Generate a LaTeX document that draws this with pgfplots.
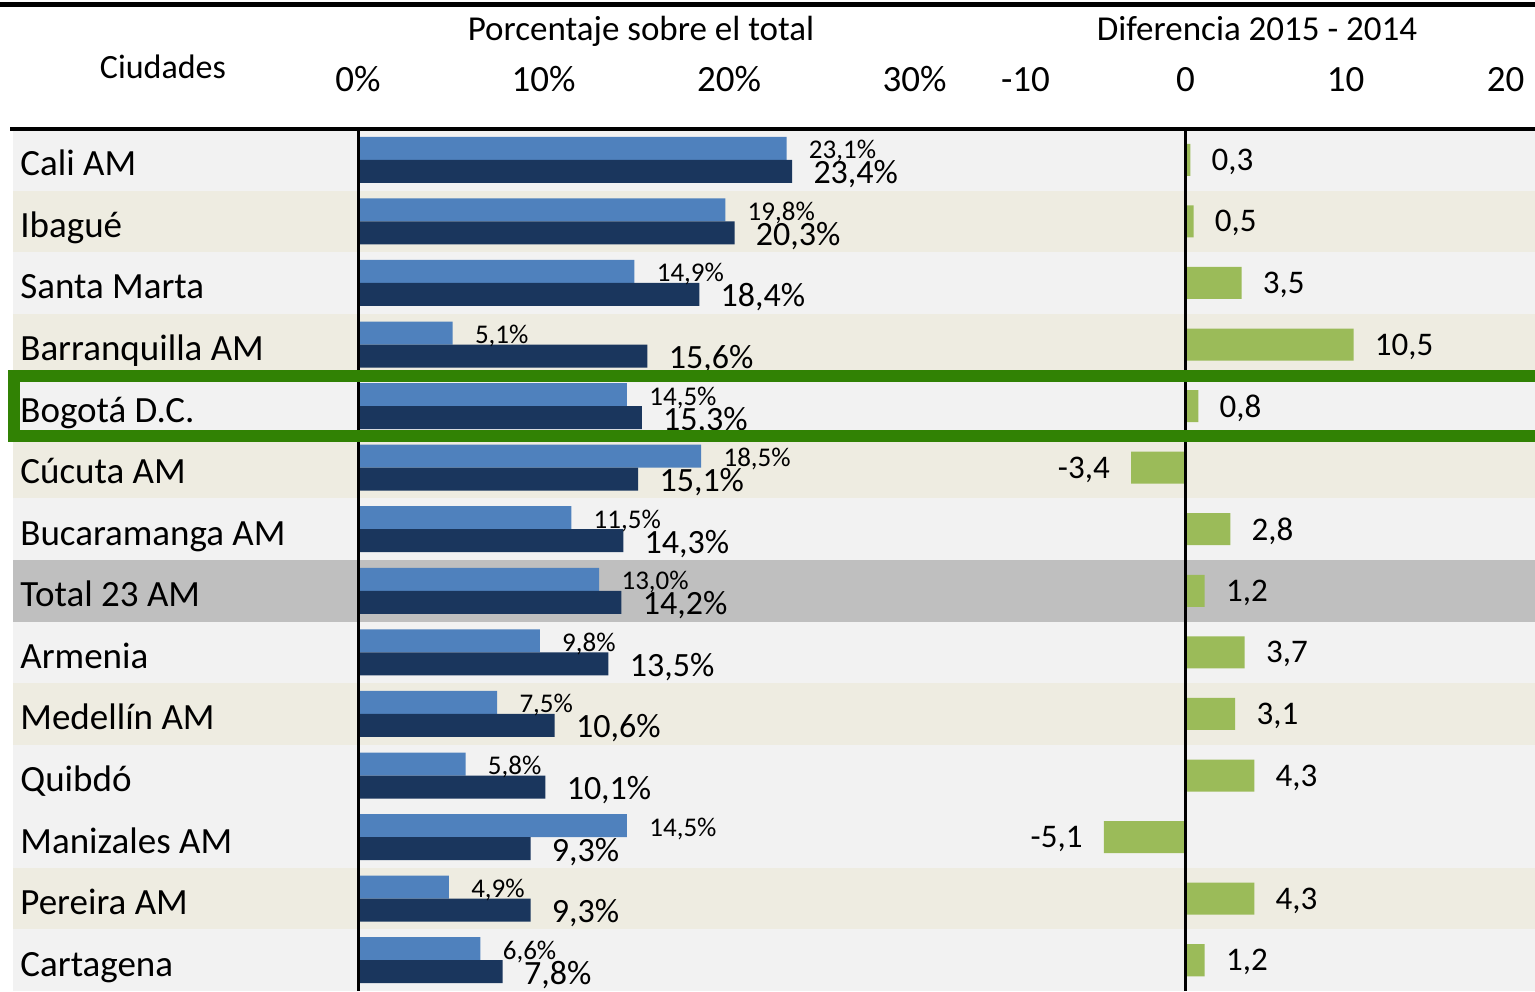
\documentclass[border=0pt]{standalone}
\usepackage{fontspec}
\setmainfont{Carlito}
\usepackage{pgfplots}
\usepackage{pgfplotstable}
\pgfplotsset{compat=1.18}
\pgfkeys{/pgf/number format/assume math mode=true}

\definecolor{azul14}{HTML}{4F81BD}
\definecolor{azul15}{HTML}{1A365D}
\definecolor{verde}{HTML}{9BBB59}
\definecolor{marco}{HTML}{318204}
\definecolor{filaA}{HTML}{F2F2F2}
\definecolor{filaB}{HTML}{EEECE1}
\definecolor{filaT}{HTML}{BFBFBF}

% fila: 0 = Cali AM ... 13 = Cartagena
\pgfplotstableread{
fila v14  v15  dif
0    23.1 23.4  0.3
1    19.8 20.3  0.5
2    14.9 18.4  3.5
3    5.1  15.6 10.5
4    14.5 15.3  0.8
5    18.5 15.1 -3.4
6    11.5 14.3  2.8
7    13.0 14.2  1.2
8    9.8  13.5  3.7
9    7.5  10.6  3.1
10   5.8  10.1  4.3
11   14.5 9.3  -5.1
12   4.9  9.3   4.3
13   6.6  7.8   1.2
}\datos

\newcommand{\pct}{\pgfmathprintnumber[fixed,fixed zerofill,precision=1,use comma]{\pgfplotspointmeta}\%}
\newcommand{\dec}{\pgfmathprintnumber[fixed,fixed zerofill,precision=1,use comma]{\pgfplotspointmeta}}

\begin{document}
\begin{tikzpicture}[x=0.5pt,y=-0.5pt]
\useasboundingbox (0,0) rectangle (1535,991);
% fondos de fila
\foreach \i/\c in {0/filaA,1/filaB,2/filaA,3/filaB,4/filaA,5/filaB,6/filaA,7/filaT,8/filaA,9/filaB,10/filaA,11/filaA,12/filaB,13/filaA}
  \fill[\c] (13,{129+\i*61.5714}) rectangle (1535,{129+(\i+1)*61.5714});
\coordinate (LA) at (358,991);
\coordinate (RA) at (1000,991);

% porcentaje sobre el total
\begin{axis}[
  at={(LA)}, anchor=south west, scale only axis,
  width=413.5pt, height=431pt,
  xmin=0, xmax=44.58, ymin=-0.5, ymax=13.5, y dir=reverse,
  axis line style={draw=none}, major tick length=0pt,
  xtick={0,10,20,30}, xticklabel pos=upper,
  xticklabel={\pgfmathprintnumber{\tick}\%},
  xticklabel style={anchor=base, yshift=19pt, inner sep=0pt, font=\fontsize{18.5}{22}\selectfont},
  ytick={0,...,13},
  yticklabels={Cali AM, Ibagué, Santa Marta, Barranquilla AM, Bogotá D.C., Cúcuta AM, Bucaramanga AM, Total 23 AM, Armenia, Medellín AM, Quibdó, Manizales AM, Pereira AM, Cartagena},
  yticklabel style={anchor=base west, xshift=-169pt, yshift=-8pt, inner sep=0pt, font=\fontsize{18.5}{22}\selectfont},
  point meta=x, nodes near coords={\pct},
]
\addplot[xbar, bar width=0.3736, bar shift=0, fill=azul14, draw=none,
  every node near coord/.append style={font=\fontsize{13.5}{16}\selectfont, inner xsep=11pt, yshift=-1.5pt}]
  table[x=v14, y expr=\thisrow{fila}-0.1868] {\datos};
\addplot[xbar, bar width=0.3736, bar shift=0, fill=azul15, draw=none,
  every node near coord/.append style={font=\fontsize{17}{20}\selectfont, inner xsep=10.5pt, yshift=-1.5pt}]
  table[x=v15, y expr=\thisrow{fila}+0.1868] {\datos};
\end{axis}

% diferencia 2015 - 2014
\begin{axis}[
  at={(RA)}, anchor=south west, scale only axis,
  width=267.5pt, height=431pt,
  xmin=-11.594, xmax=21.844, ymin=-0.5, ymax=13.5, y dir=reverse,
  axis line style={draw=none}, major tick length=0pt,
  xtick={-10,0,10,20}, xticklabel pos=upper,
  xticklabel={\pgfmathprintnumber{\tick}},
  xticklabel style={anchor=base, yshift=19pt, inner sep=0pt, font=\fontsize{18.5}{22}\selectfont},
  ytick=\empty,
  point meta=x, nodes near coords={\dec},
]
\addplot[xbar, bar width=0.52, bar shift=0, fill=verde, draw=none,
  every node near coord/.append style={font=\fontsize{16.5}{20}\selectfont, inner xsep=10.5pt, yshift=-1pt}]
  table[x=dif, y=fila] {\datos};
\end{axis}

% encabezados
\node[anchor=base, font=\fontsize{17}{20}\selectfont] at (163,78) {Ciudades};
\node[anchor=base, font=\fontsize{17.5}{20}\selectfont] at (641,40) {Porcentaje sobre el total};
\node[anchor=base, font=\fontsize{17.5}{20}\selectfont] at (1257,40) {Diferencia 2015 - 2014};

% lineas
\draw[line width=2.5pt] (0,4) -- (1535,4);
\draw[line width=2pt] (10,129) -- (1535,129);
\draw[line width=1.5pt] (358,129) -- (358,991);
\draw[line width=1.5pt] (1185,127) -- (1185,991);

% marco Bogota
\draw[marco, line width=6pt] (14,376) rectangle (1570,436);
\end{tikzpicture}
\end{document}
